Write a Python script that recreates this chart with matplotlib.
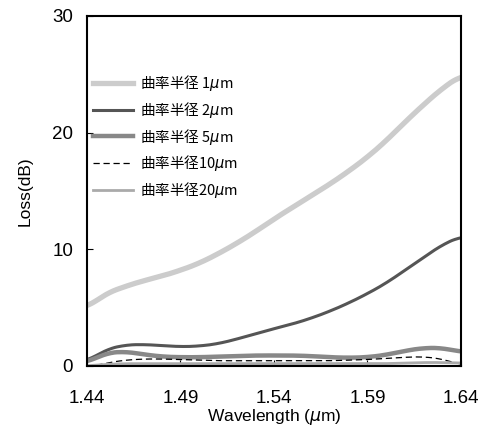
import matplotlib
matplotlib.use('Agg')
import matplotlib.pyplot as plt
import numpy as np

plt.rcParams['font.family'] = ['Liberation Sans', 'Noto Sans CJK JP', 'DejaVu Sans']
plt.rcParams['mathtext.fontset'] = 'dejavusans'

# wavelength grid (um)
wavelength = [1.44, 1.45, 1.46, 1.47, 1.48, 1.49, 1.50, 1.51, 1.52, 1.53, 1.54,
              1.55, 1.56, 1.57, 1.58, 1.59, 1.60, 1.61, 1.62, 1.63, 1.64]

loss_1um = [5.0, 6.2, 6.8, 7.3, 7.7, 8.2, 8.8, 9.6, 10.5, 11.5, 12.6,
            13.6, 14.6, 15.6, 16.7, 17.9, 19.3, 20.9, 22.4, 23.8, 24.9]
loss_2um = [0.4, 1.4, 1.8, 1.85, 1.75, 1.65, 1.7, 1.9, 2.3, 2.75, 3.2,
            3.6, 4.1, 4.7, 5.4, 6.2, 7.1, 8.2, 9.3, 10.4, 11.1]
loss_5um = [0.3, 1.1, 1.25, 1.0, 0.8, 0.75, 0.75, 0.8, 0.85, 0.9, 0.9,
            0.9, 0.85, 0.75, 0.7, 0.75, 0.95, 1.3, 1.55, 1.55, 1.2]
wavelength_10 = [1.445, 1.45, 1.46, 1.47, 1.48, 1.49, 1.50, 1.51, 1.52, 1.53, 1.54,
                 1.55, 1.56, 1.57, 1.58, 1.59, 1.60, 1.61, 1.62, 1.63, 1.64]
loss_10um = [0.0, 0.25, 0.5, 0.6, 0.6, 0.55, 0.5, 0.45, 0.45, 0.45, 0.45,
             0.45, 0.45, 0.45, 0.5, 0.55, 0.65, 0.75, 0.8, 0.6, 0.1]
loss_20um = [0.0, 0.15, 0.2, 0.2, 0.2, 0.2, 0.2, 0.2, 0.2, 0.2, 0.2,
             0.2, 0.2, 0.2, 0.2, 0.2, 0.2, 0.25, 0.3, 0.3, 0.25]

labels = ['曲率半径 1$\\mu$m', '曲率半径 2$\\mu$m', '曲率半径 5$\\mu$m',
          '曲率半径10$\\mu$m', '曲率半径20$\\mu$m']
x_ticks = [1.44, 1.49, 1.54, 1.59, 1.64]
y_ticks = [0, 10, 20, 30]


def smooth(x, y, n=300):
    # moving average over the linear interpolation, just to round the corners
    xs = np.linspace(x[0], x[-1], n)
    ys = np.interp(xs, x, y)
    k = 9
    pad = np.pad(ys, k, mode='edge')
    ker = np.ones(2 * k + 1) / (2 * k + 1)
    ys = np.convolve(pad, ker, mode='same')[k:-k]
    return xs, ys


fig = plt.figure(figsize=(4.87, 4.37), dpi=100)
ax = fig.add_axes([0.1786, 0.1625, 0.768, 0.801])

ax.plot(*smooth(wavelength, loss_1um), color='#cccccc', lw=3.8, label=labels[0])
ax.plot(*smooth(wavelength, loss_2um), color='#555555', lw=2.2, label=labels[1])
ax.plot(*smooth(wavelength, loss_5um), color='#888888', lw=3.2, label=labels[2])
ax.plot(*smooth(wavelength_10, loss_10um), color='black', lw=0.9,
        dashes=(5, 3), label=labels[3])
ax.plot(*smooth(wavelength, loss_20um), color='#aaaaaa', lw=2.0, label=labels[4])

ax.set_xlim(1.44, 1.64)
ax.set_ylim(0, 30)
ax.set_xticks(x_ticks)
ax.set_xticklabels([f'{v:.2f}' for v in x_ticks])
ax.set_yticks(y_ticks)
ax.tick_params(direction='in', length=4, width=0.8, labelsize=13.5)
ax.tick_params(axis='x', pad=17)
ax.tick_params(axis='y', pad=10)
for s in ax.spines.values():
    s.set_linewidth(1.5)

ax.set_xlabel('Wavelength ($\\mu$m)', fontsize=12.5, labelpad=0)
ax.set_ylabel('Loss(dB)', fontsize=12.5, labelpad=14)

ax.legend(loc='upper left', bbox_to_anchor=(-0.02, 0.875), frameon=False,
          prop={'family': 'Noto Sans CJK JP', 'size': 10.5},
          handlelength=2.8, handletextpad=0.45, labelspacing=0.47)

fig.savefig('out.png', dpi=100)
